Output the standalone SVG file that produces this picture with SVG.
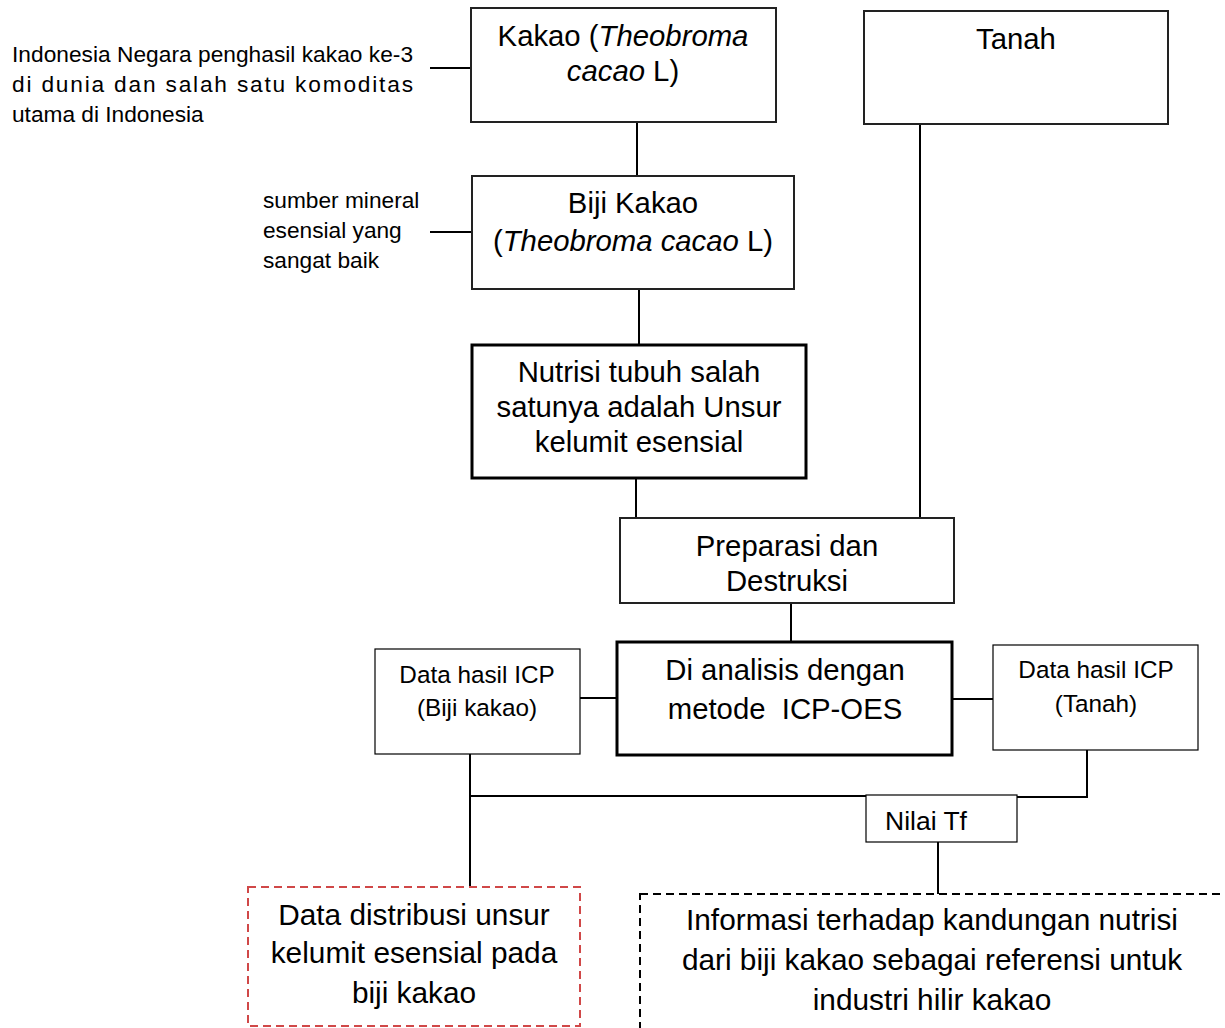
<svg xmlns="http://www.w3.org/2000/svg" width="1225" height="1028" viewBox="0 0 1225 1028">
<style>
text{font-family:"Liberation Sans",Arial,sans-serif;fill:#000}
.m{font-size:29.3px;text-anchor:middle}
.s{font-size:22.7px}
.d{font-size:24.3px;text-anchor:middle}
.b{font-size:29.8px;text-anchor:middle}
.box{fill:#fff;stroke:#222;stroke-width:2}
.thick{fill:#fff;stroke:#000;stroke-width:3}
.thin{fill:#fff;stroke:#000;stroke-width:1.2}
.ln{stroke:#000;stroke-width:2;fill:none}
.dash{fill:#fff;stroke:#000;stroke-width:2;stroke-dasharray:8 5}
.rdash{fill:#fff;stroke:#d04848;stroke-width:2;stroke-dasharray:8 5}
</style>
<rect width="1225" height="1028" fill="#fff"/>
<g id="connectors">
<line class="ln" x1="430" y1="68" x2="471" y2="68"/>
<line class="ln" x1="430" y1="232" x2="472" y2="232"/>
<line class="ln" x1="637" y1="122" x2="637" y2="175"/>
<line class="ln" x1="639" y1="289" x2="639" y2="345"/>
<line class="ln" x1="636" y1="478" x2="636" y2="523"/>
<line class="ln" x1="920" y1="124" x2="920" y2="518"/>
<line class="ln" x1="791" y1="603" x2="791" y2="641"/>
<line class="ln" x1="579" y1="698" x2="617" y2="698"/>
<line class="ln" x1="952" y1="699" x2="993" y2="699"/>
<polyline class="ln" points="470,754 470,887"/>
<line class="ln" x1="470" y1="796" x2="866" y2="796"/>
<polyline class="ln" points="1087,750 1087,797 1017,797"/>
<line class="ln" x1="938" y1="842" x2="938" y2="894"/>
</g>
<g id="note-indonesia">
<text class="s" x="12" y="62" textLength="401" lengthAdjust="spacing">Indonesia Negara penghasil kakao ke-3</text>
<text class="s" x="12" y="92" textLength="401" lengthAdjust="spacing">di dunia dan salah satu komoditas</text>
<text class="s" x="12" y="122">utama di Indonesia</text>
</g>
<g id="note-mineral">
<text class="s" x="263" y="208">sumber mineral</text>
<text class="s" x="263" y="238">esensial yang</text>
<text class="s" x="263" y="268">sangat baik</text>
</g>
<g id="kakao">
<rect class="box" x="471" y="8" width="305" height="114"/>
<text class="m" x="623" y="46">Kakao (<tspan font-style="italic">Theobroma</tspan></text>
<text class="m" x="623" y="81"><tspan font-style="italic">cacao</tspan> L)</text>
</g>
<g id="tanah">
<rect class="box" x="864" y="11" width="304" height="113"/>
<text class="m" x="1016" y="49">Tanah</text>
</g>
<g id="biji">
<rect class="box" x="472" y="176" width="322" height="113"/>
<text class="m" x="633" y="213">Biji Kakao</text>
<text class="m" x="633" y="251">(<tspan font-style="italic">Theobroma cacao</tspan> L)</text>
</g>
<g id="nutrisi">
<rect class="thick" x="472" y="345" width="334" height="133"/>
<text class="m" x="639" y="382">Nutrisi tubuh salah</text>
<text class="m" x="639" y="417">satunya adalah Unsur</text>
<text class="m" x="639" y="452">kelumit esensial</text>
</g>
<g id="preparasi">
<rect class="box" x="620" y="518" width="334" height="85" stroke-width="2.5"/>
<text class="m" x="787" y="556">Preparasi dan</text>
<text class="m" x="787" y="591">Destruksi</text>
</g>
<g id="analisis">
<rect class="thick" x="617" y="642" width="335" height="113"/>
<text class="m" x="785" y="680" xml:space="preserve">Di analisis dengan</text>
<text class="m" x="785" y="719" xml:space="preserve">metode  ICP-OES</text>
</g>
<g id="icp-biji">
<rect class="thin" x="375" y="649" width="205" height="105"/>
<text class="d" x="477" y="683">Data hasil ICP</text>
<text class="d" x="477" y="716">(Biji kakao)</text>
</g>
<g id="icp-tanah">
<rect class="thin" x="993" y="645" width="205" height="105"/>
<text class="d" x="1096" y="678">Data hasil ICP</text>
<text class="d" x="1096" y="712">(Tanah)</text>
</g>
<g id="nilai-tf">
<rect class="thin" x="866" y="795" width="151" height="47"/>
<text x="885" y="830" style="font-size:26.5px">Nilai Tf</text>
</g>
<g id="distribusi">
<rect class="rdash" x="248" y="887" width="332" height="139"/>
<text class="b" x="414" y="925">Data distribusi unsur</text>
<text class="b" x="414" y="963">kelumit esensial pada</text>
<text class="b" x="414" y="1003">biji kakao</text>
</g>
<g id="informasi">
<rect class="dash" x="640" y="894" width="620" height="150"/>
<text class="b" x="932" y="930">Informasi terhadap kandungan nutrisi</text>
<text class="b" x="932" y="970">dari biji kakao sebagai referensi untuk</text>
<text class="b" x="932" y="1010">industri hilir kakao</text>
</g>
</svg>
